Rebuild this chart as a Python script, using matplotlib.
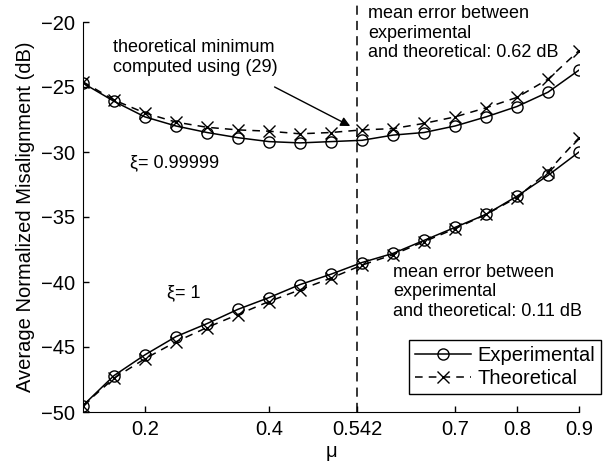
import matplotlib
matplotlib.use("Agg")
import matplotlib.pyplot as plt
import numpy as np

plt.rcParams['font.family'] = ['Liberation Sans', 'DejaVu Sans']

# step sizes (mu)
mu = [0.10, 0.15, 0.20, 0.25, 0.30, 0.35, 0.40, 0.45, 0.50,
      0.55, 0.60, 0.65, 0.70, 0.75, 0.80, 0.85, 0.90]

# xi = 0.99999
exp_099 = [-24.7, -26.1, -27.3, -28.0, -28.5, -28.9, -29.2, -29.3, -29.2,
           -29.1, -28.7, -28.5, -28.0, -27.3, -26.5, -25.4, -23.7]
theo_099 = [-24.6, -26.0, -27.0, -27.7, -28.1, -28.3, -28.4, -28.6, -28.5,
            -28.3, -28.2, -27.8, -27.3, -26.6, -25.8, -24.4, -22.2]

# xi = 1
exp_1 = [-49.5, -47.2, -45.6, -44.2, -43.2, -42.1, -41.2, -40.2, -39.4,
         -38.5, -37.8, -36.8, -35.8, -34.8, -33.4, -31.8, -30.0]
theo_1 = [-49.5, -47.4, -45.9, -44.6, -43.5, -42.5, -41.5, -40.6, -39.7,
          -38.7, -37.9, -36.9, -35.9, -34.8, -33.5, -31.5, -28.9]

mu_opt = 0.542
xtick_vals = [0.2, 0.4, 0.542, 0.7, 0.8, 0.9]
xtick_labels = ['0.2', '0.4', '0.542', '0.7', '0.8', '0.9']
ytick_vals = [-50, -45, -40, -35, -30, -25, -20]

fig = plt.figure(figsize=(6.05, 4.66), dpi=100)
ax = fig.add_axes([83/605, 1 - 412/466, 496/605, 390/466])

dash = (5, 4)
ms = 8
lw = 1.1
ax.plot(mu, exp_099, 'k-', marker='o', mfc='none', ms=ms, lw=lw, label='Experimental')
ax.plot(mu, theo_099, 'k--', marker='x', ms=ms, lw=lw, dashes=dash, label='Theoretical')
ax.plot(mu, exp_1, 'k-', marker='o', mfc='none', ms=ms, lw=lw)
ax.plot(mu, theo_1, 'k--', marker='x', ms=ms, lw=lw, dashes=dash)

# vertical line at the optimal step size
ax.plot([mu_opt, mu_opt], [-50, -18.7], 'k--', lw=lw, dashes=(6, 4), clip_on=False)

ax.set_xlim(0.1, 0.9)
ax.set_ylim(-50, -20)
ax.set_xticks(xtick_vals)
ax.set_xticklabels(xtick_labels)
ax.set_yticks(ytick_vals)
ax.spines['top'].set_visible(False)
ax.spines['right'].set_visible(False)
ax.tick_params(direction='in', length=4, width=1, labelsize=14.5, pad=6)
ax.set_xlabel('μ', fontsize=14.5, labelpad=2)
ax.set_ylabel('Average Normalized Misalignment (dB)', fontsize=14.5, labelpad=4)

fs = 13
ax.text(0.148, -21.3, 'theoretical minimum\ncomputed using (29)', fontsize=fs, va='top')
ax.annotate('', xy=(0.535, -28.1), xytext=(0.405, -24.9),
            arrowprops=dict(arrowstyle='-|>', color='k', lw=1.0, mutation_scale=14))
ax.text(0.176, -30.85, 'ξ= 0.99999', fontsize=fs, va='center')
ax.text(0.235, -40.8, 'ξ= 1', fontsize=fs, va='center')
ax.text(0.56, -18.7, 'mean error between\nexperimental\nand theoretical: 0.62 dB',
        fontsize=fs, va='top')
ax.text(0.6, -38.6, 'mean error between\nexperimental\nand theoretical: 0.11 dB',
        fontsize=fs, va='top')

leg = ax.legend(loc='lower right', bbox_to_anchor=(601/605, 1 - 394/466),
                bbox_transform=fig.transFigure, borderaxespad=0, fontsize=14.5,
                handlelength=2.8, fancybox=False, framealpha=1, edgecolor='k',
                borderpad=0.3, labelspacing=0.2, handletextpad=0.3)
leg.get_frame().set_linewidth(1.0)

fig.savefig('out.png', dpi=100)
